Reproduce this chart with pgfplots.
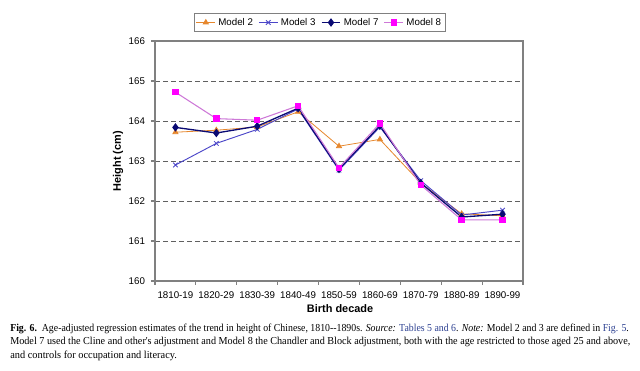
\documentclass[border=0pt]{standalone}
\usepackage{pgfplots}
\pgfplotsset{compat=1.18}
\usepackage{graphicx}
\usepackage{fontspec}
\setmainfont{Liberation Sans}
\newfontfamily\capfont{Liberation Serif}
\definecolor{mtwo}{RGB}{230,135,45}
\definecolor{mthree}{RGB}{75,70,200}
\definecolor{mseven}{RGB}{10,10,115}
\definecolor{meight}{RGB}{255,0,255}
\definecolor{meightline}{RGB}{205,120,215}
\definecolor{axgray}{RGB}{128,128,128}
\definecolor{linkblue}{RGB}{45,65,145}
\begin{document}
\begin{tikzpicture}
\path[use as bounding box] (0,0) rectangle (480pt,278.25pt);
\begin{axis}[
  at={(116.25pt,67.5pt)}, anchor=south west,
  scale only axis, width=276pt, height=180pt,
  xmin=-0.5, xmax=8.5, ymin=160, ymax=166,
  xtick={0,...,8},
  xticklabels={1810-19,1820-29,1830-39,1840-49,1850-59,1860-69,1870-79,1880-89,1890-99},
  major x tick style={draw=none},
  minor xtick={-0.5,0.5,...,8.5},
  minor tick length=3pt,
  ytick={160,...,166},
  major tick length=3pt,
  tick align=outside,
  xtick pos=bottom, ytick pos=left,
  axis line style={axgray, line width=0.9pt},
  every tick/.style={axgray, line width=0.8pt},
  ymajorgrids,
  major grid style={gray!75!black, dash pattern=on 3.75pt off 2.25pt, line width=0.6pt},
  tick label style={font=\fontsize{7.3}{9}\selectfont},
  /pgf/number format/assume math mode=true,
  yticklabel style={xshift=-1pt},
  xticklabel style={yshift=-1.5pt},
  xlabel={\textbf{Birth decade}},
  ylabel={\textbf{Height (cm)}},
  label style={font=\fontsize{8.2}{10}\selectfont},
  xlabel style={at={(axis description cs:0.503,-0.117)}, anchor=center},
  ylabel style={at={(axis description cs:-0.1005,0.5)}, anchor=center},
  legend columns=4,
  legend image code/.code={
    \draw[mark repeat=2,mark phase=2] plot coordinates {(0cm,0cm) (0.25cm,0cm) (0.5cm,0cm)};},
  legend style={at={(0.448,1.077)}, anchor=center, draw=axgray, line width=0.6pt,
    font=\fontsize{7.3}{9}\selectfont, inner sep=1.5pt,
    /tikz/every even column/.append style={column sep=2pt}},
  clip=false,
]
\addplot[mtwo, line width=0.6pt, mark=triangle*, mark size=2.2pt, mark options={fill=mtwo, draw=mtwo}]
 coordinates {(0,163.72) (1,163.77) (2,163.85) (3,164.23) (4,163.37) (5,163.54) (6,162.45) (7,161.68) (8,161.63)};
\addlegendentry{Model 2}
\addplot[mthree, line width=0.7pt, mark=x, mark size=2.4pt, mark options={mthree, line width=0.6pt}]
 coordinates {(0,162.90) (1,163.44) (2,163.79) (3,164.30) (4,162.77) (5,163.85) (6,162.51) (7,161.65) (8,161.77)};
\addlegendentry{Model 3}
\addplot[mseven, line width=1.0pt, mark=diamond*, mark size=2.4pt, mark options={fill=mseven, draw=mseven}]
 coordinates {(0,163.84) (1,163.70) (2,163.87) (3,164.32) (4,162.80) (5,163.88) (6,162.45) (7,161.60) (8,161.67)};
\addlegendentry{Model 7}
\addplot[meightline, line width=0.8pt, mark=square*, mark size=2.0pt, mark options={fill=meight, draw=meight}]
 coordinates {(0,164.72) (1,164.06) (2,164.02) (3,164.38) (4,162.83) (5,163.94) (6,162.40) (7,161.53) (8,161.53)};
\addlegendentry{Model 8}
\end{axis}
\node[anchor=west, inner sep=0pt] at (7.5pt,31.5pt) {\resizebox{464pt}{\height}{\capfont\fontsize{8}{9}\selectfont\textbf{Fig. 6.}\ \ Age-adjusted regression estimates of the trend in height of Chinese, 1810--1890s. \textit{Source:} \textcolor{linkblue}{Tables 5 and 6}. \textit{Note:} Model 2 and 3 are defined in \textcolor{linkblue}{Fig. 5}.}};
\node[anchor=west, inner sep=0pt] at (7.5pt,21.75pt) {\resizebox{465pt}{\height}{\capfont\fontsize{8}{9}\selectfont Model 7 used the Cline and other's adjustment and Model 8 the Chandler and Block adjustment, both with the age restricted to those aged 25 and above,}};
\node[anchor=west, inner sep=0pt] at (7.5pt,11.5pt) {\resizebox{125pt}{\height}{\capfont\fontsize{8}{9}\selectfont and controls for occupation and literacy.}};
\end{tikzpicture}
\end{document}
